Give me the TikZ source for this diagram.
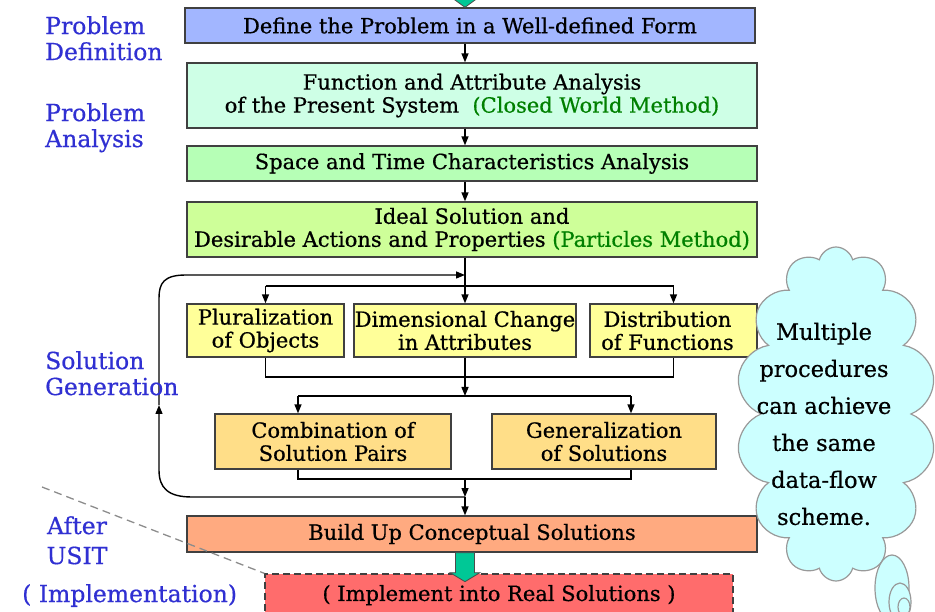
\documentclass[tikz,border=0pt]{standalone}
\usepackage{fontspec}
\setmainfont{DejaVu Serif}[FakeBold=0.6]
\usetikzlibrary{arrows.meta,shapes.symbols,positioning}

\definecolor{defblue}{RGB}{162,182,255}
\definecolor{funcmint}{RGB}{206,255,230}
\definecolor{spacegreen}{RGB}{182,255,182}
\definecolor{idealgreen}{RGB}{206,255,153}
\definecolor{rowyellow}{RGB}{255,255,153}
\definecolor{rowgold}{RGB}{255,222,136}
\definecolor{buildsalmon}{RGB}{255,170,128}
\definecolor{implred}{RGB}{255,108,108}
\definecolor{tealarrow}{RGB}{0,200,150}
\definecolor{labelblue}{RGB}{48,48,210}
\definecolor{methodgreen}{RGB}{0,128,0}
\definecolor{cloudcyan}{RGB}{204,255,255}

\tikzset{
  stepbox/.style={draw=black!75, line width=1.3pt, inner sep=0pt, align=center,
    font=\fontsize{21}{23}\selectfont},
  flow/.style={line width=1.4pt, -{Triangle[length=9pt,width=7pt]}},
  wire/.style={line width=1.4pt},
  phase/.style={text=labelblue, inner sep=0pt, align=left,
    font=\fontsize{23.5}{26}\selectfont},
  fatarrow/.style={fill=tealarrow, draw=black!70, line width=0.8pt}
}

\begin{document}
\begin{tikzpicture}[x=1pt,y=-1pt]
\useasboundingbox (0,0) rectangle (935,612);

% spine and junctions
\coordinate (sp) at (465,0);
\coordinate (join1) at (465,275);
\coordinate (split1) at (465,286);
\coordinate (merge1) at (465,377);
\coordinate (split2) at (465,396);
\coordinate (merge2) at (465,479);
\coordinate (join2) at (465,497);
\coordinate (cL) at (298,396);
\coordinate (cR) at (631,396);
\coordinate (loopup) at (159,405);

% Boxes
\node[stepbox, fill=defblue, minimum width=570, minimum height=35] (define) at (470,25.5)
  {Define the Problem in a Well-defined Form};
\node[stepbox, fill=funcmint, minimum width=570, minimum height=65] (func) at (472,95.5)
  {Function and Attribute Analysis\\of the Present System\ \ {\color{methodgreen}(Closed World Method)}};
\node[stepbox, fill=spacegreen, minimum width=570, minimum height=35] (space) at (472,163.5)
  {Space and Time Characteristics Analysis};
\node[stepbox, fill=idealgreen, minimum width=570, minimum height=55] (ideal) at (472,229.5)
  {Ideal Solution and\\Desirable Actions and Properties {\color{methodgreen}(Particles Method)}};

\node[stepbox, fill=rowyellow, minimum width=157, minimum height=53] (plural) at (265.5,330.5)
  {Pluralization\\of Objects};
\node[stepbox, fill=rowyellow, minimum width=222, minimum height=53] (dimen) at (465,330.5)
  {Dimensional Change\\in Attributes};
\node[stepbox, fill=rowyellow, minimum width=167, minimum height=53] (distr) at (673.5,330.5)
  {\hspace*{-12pt}Distribution\\\hspace*{-12pt}of Functions};

\node[stepbox, fill=rowgold, minimum width=236, minimum height=55] (comb) at (333,441.5)
  {Combination of\\Solution Pairs};
\node[stepbox, fill=rowgold, minimum width=224, minimum height=55] (gen) at (604,441.5)
  {Generalization\\of Solutions};

\node[stepbox, fill=buildsalmon, minimum width=570, minimum height=36] (build) at (472,534)
  {Build Up Conceptual Solutions};
\node[stepbox, fill=implred, dash pattern=on 7pt off 4pt, minimum width=468, minimum height=46] (impl) at (499,597)
  {\raisebox{8pt}{( Implement into Real Solutions )}};

% Straight arrows down the spine
\draw[flow] (define.south -| sp) -- (func.north -| sp);
\draw[flow] (func.south -| sp) -- (space.north -| sp);
\draw[flow] (space.south -| sp) -- (ideal.north -| sp);
\draw[wire] (ideal.south -| sp) -- (split1);

% first fan out
\draw[wire] (plural.north |- split1) -- (distr.north |- split1);
\draw[flow] (plural.north |- split1) -- (plural.north);
\draw[flow] (split1) -- (dimen.north);
\draw[flow] (distr.north |- split1) -- (distr.north);

% first fan in
\draw[wire] (plural.south) -- (plural.south |- merge1) -- (distr.south |- merge1) -- (distr.south);
\draw[wire] (dimen.south) -- (merge1);
\draw[flow] (merge1) -- (split2);

% second fan out
\draw[wire] (cL) -- (cR);
\draw[flow] (cL) -- (cL |- comb.north);
\draw[flow] (cR) -- (cR |- gen.north);

% second fan in
\draw[wire] (cL |- comb.south) -- (cL |- merge2) -- (cR |- merge2) -- (cR |- gen.south);
\draw[flow] (merge2) -- (join2);
\draw[flow] (join2) -- (build.north -| sp);

% loop back
\draw[flow] (join2) -- (192,497) .. controls (168,497) and (159,488) .. (159,470) -- (loopup);
\draw[flow] (loopup) -- (159,298) .. controls (159,283) and (164,275) .. (186,275) -- (join1);

% teal arrows
\draw[fatarrow] (define.north -| sp) -- ++(-15,-11) -- ++(5.5,0) -- ++(0,-20)
  -- ++(19,0) -- ++(0,20) -- ++(5.5,0) -- cycle;
\draw[fatarrow] (build.south -| sp) ++(-9.5,0) -- ++(0,20) -- ++(-5.5,0) -- ++(15,9)
  -- ++(15,-9) -- ++(-5.5,0) -- ++(0,-20) -- cycle;

% separator
\coordinate (sepA) at (42,487);
\draw[black!45, dash pattern=on 8pt off 5pt, line width=1.3pt] (sepA) -- (impl.north west);

% phase labels
\node[phase, anchor=north west] (pdef) at (45,16) {Problem\\Definition};
\node[phase, anchor=north west] (pana) at (45,103) {Problem\\Analysis};
\node[phase, anchor=north west] (sgen) at (45,351) {Solution\\Generation};
\node[phase, align=center, anchor=north] (usit) at (77,516) {After\\[4pt]USIT};
\node[phase, anchor=north west] (implab) at (22,584) {( Implementation)};

% cloud
\node[cloud, cloud puffs=14, cloud ignores aspect, draw=black!40, line width=1.2pt,
  fill=cloudcyan, minimum width=200, minimum height=334, inner sep=0pt] (note) at (836,414) {};
\node[align=center, font=\fontsize{22.5}{37}\selectfont] (notetext) at (824,424)
  {Multiple\\procedures\\can achieve\\the same\\data-flow\\scheme.};
\draw[draw=black!40, line width=1.2pt, fill=cloudcyan] (892,588) ellipse (17 and 33);
\draw[draw=black!40, line width=1.2pt, fill=cloudcyan] (900,602) ellipse (11 and 19);
\draw[draw=black!40, line width=1.2pt, fill=cloudcyan] (904,607) ellipse (6 and 9);

\end{tikzpicture}
\end{document}
